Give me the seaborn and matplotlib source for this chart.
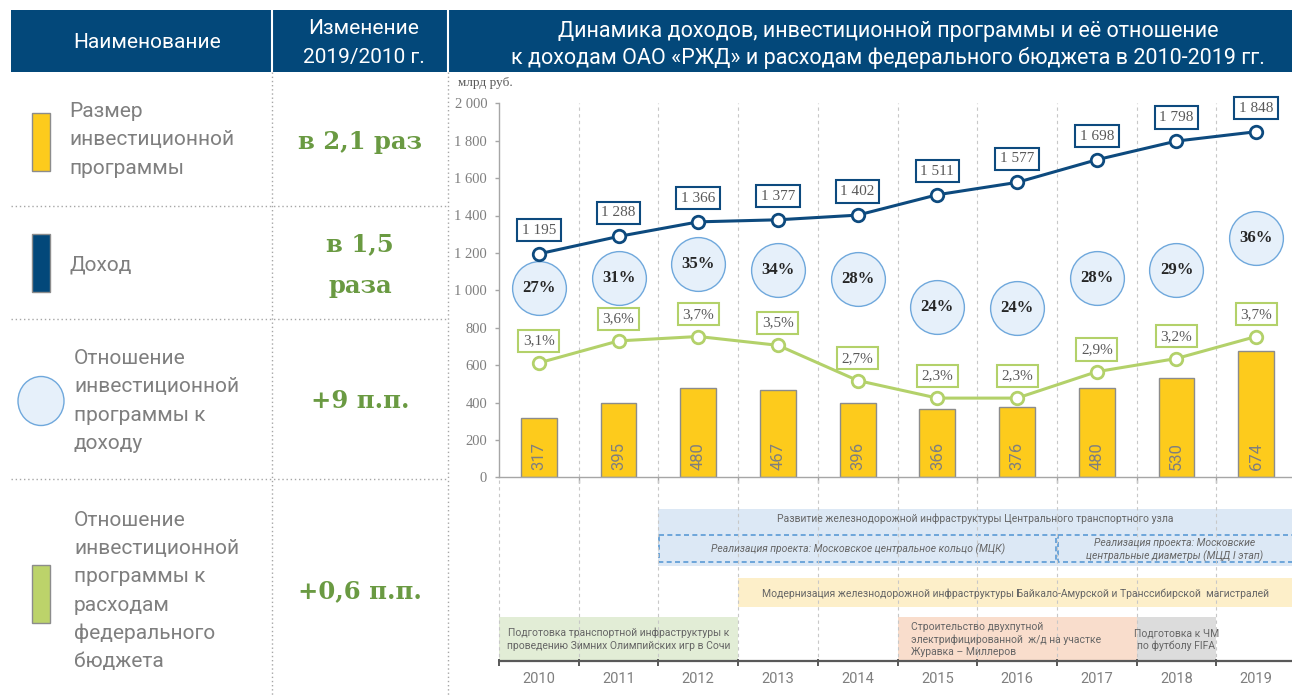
import numpy as np
import pandas as pd
import matplotlib
matplotlib.use("Agg")
import matplotlib.pyplot as plt
from matplotlib.patches import Rectangle, Ellipse
import seaborn as sns

# ---- data ----
years = ["2010", "2011", "2012", "2013", "2014", "2015", "2016", "2017", "2018", "2019"]
invest = [317, 395, 480, 467, 396, 366, 376, 480, 530, 674]          # млрд руб.
income = [1195, 1288, 1366, 1377, 1402, 1511, 1577, 1698, 1798, 1848]  # млрд руб.
invest_to_income = [27, 31, 35, 34, 28, 24, 24, 28, 29, 36]           # %
invest_to_budget = [3.1, 3.6, 3.7, 3.5, 2.7, 2.3, 2.3, 2.9, 3.2, 3.7]  # %

row_names = [
    "Размер\nинвестиционной\nпрограммы",
    "Доход",
    "Отношение\nинвестиционной\nпрограммы к\nдоходу",
    "Отношение\nинвестиционной\nпрограммы к\nрасходам\nфедерального\nбюджета",
]
row_changes = ["в 2,1 раз", "в 1,5\nраза", "+9 п.п.", "+0,6 п.п."]

programs = [
    "Развитие железнодорожной инфраструктуры Центрального транспортного узла",
    "Реализация проекта: Московское центральное кольцо (МЦК)",
    "Реализация проекта: Московские\nцентральные диаметры (МЦД I этап)",
    "Модернизация железнодорожной инфраструктуры Байкало-Амурской и Транссибирской  магистралей",
    "Подготовка транспортной инфраструктуры к\nпроведению Зимних Олимпийских игр в Сочи",
    "Строительство двухпутной\nэлектрифицированной  ж/д на участке\nЖуравка – Миллеров",
    "Подготовка к ЧМ\nпо футболу FIFA",
]
prog_start = [2012, 2012, 2017, 2013, 2010, 2015, 2018]
prog_end = [2019, 2016, 2019, 2019, 2012, 2017, 2018]

# ---- styles / layout ----
W, H = 1292, 695
NAVY = "#03487a"
LINE_BLUE = "#0d4a7e"
LINE_GREEN = "#b3d16a"
BAR_YELLOW = "#fdcb1c"
GREEN_TXT = "#6a9a42"
GREY = "#7f7f7f"
SANS = ["Roboto", "DejaVu Sans"]
SERIF = ["Liberation Serif", "DejaVu Serif"]

# vertical placement of the ratio bubbles (label layout, chart units)
bubble_y = [1012, 1066, 1141, 1108, 1061, 911, 905, 1066, 1108, 1280]
# lanes of the timeline boxes: (top, bottom, face, dashed, italic, align)
prog_style = [
    (509, 566, "#dce8f5", False, False, "top"),
    (535, 562, "none", True, True, "center"),
    (535, 562, "none", True, True, "center"),
    (578, 607, "#fdefc9", False, False, "center"),
    (617, 660, "#e2edd6", False, False, "center"),
    (617, 660, "#f9ddcc", False, False, "left"),
    (617, 660, "#dcdcdc", False, False, "center"),
]

sns.set_theme(style="white")
plt.rcParams["font.family"] = SANS


def lines_at(axis, x, yc, text, step, **kw):
    # place each line of a multi-line text at a fixed pixel step (y grows downwards)
    parts = text.split("\n")
    for k, part in enumerate(parts):
        axis.text(x, yc + (k - (len(parts) - 1) / 2) * step, part, va="center", **kw)


fig = plt.figure(figsize=(W / 100, H / 100), dpi=100)

# ---- background layer in pixel coordinates (table, header) ----
bg = fig.add_axes([0, 0, 1, 1])
bg.set_xlim(0, W)
bg.set_ylim(H, 0)
bg.axis("off")

bg.add_patch(Rectangle((11, 10), W - 11, 62, color=NAVY, lw=0))
for xs in (272, 448):
    bg.plot([xs, xs], [10, 72], color="white", lw=1.5)
    bg.plot([xs, xs], [72, H], color="#a6a6a6", lw=1, ls=(0, (1, 2)))
for ys in (206, 319, 479):
    bg.plot([11, 448], [ys, ys], color="#a6a6a6", lw=1, ls=(0, (1, 2)))

bg.text(147, 43, "Наименование", color="white", fontsize=15, ha="center", va="center")
lines_at(bg, 364, 43.5, "Изменение\n2019/2010 г.", 29, color="white", fontsize=15, ha="center")
lines_at(bg, 888, 44.5, "Динамика доходов, инвестиционной программы и её отношение\n"
         "к доходам ОАО «РЖД» и расходам федерального бюджета в 2010-2019 гг.", 27,
         color="white", fontsize=15.5, ha="center")

row_y = [140, 265, 401, 591]
label_x = [69, 69, 74, 74]
for i in range(4):
    lines_at(bg, label_x[i], row_y[i], row_names[i], 28.3, color=GREY, fontsize=15, ha="left")
    lines_at(bg, 360, row_y[i] + (2 if i == 0 else 0), row_changes[i], 42, color=GREEN_TXT,
             fontsize=17.5, fontweight="bold", family=["DejaVu Serif"], ha="center")

bg.add_patch(Rectangle((32, 113), 18, 58, fc=BAR_YELLOW, ec="#8c8c8c", lw=1))
bg.add_patch(Rectangle((32, 234), 18, 58, fc=NAVY, ec="#8c8c8c", lw=1))
bg.add_patch(Ellipse((41, 401), 46, 49, fc="#e6f0fa", ec="#6fa8dc", lw=1))
bg.add_patch(Rectangle((32, 565), 18, 58, fc="#bcd36a", ec="#8c8c8c", lw=1))

bg.text(458, 83, "млрд руб.", color="#595959", fontsize=9.5, family=SERIF,
        ha="left", va="center")

# ---- main chart ----
px_per_cat = 79.7
x_right = -0.5 + (W - 499) / px_per_cat
ax = fig.add_axes([499 / W, 1 - 477.3 / H, (W - 499) / W, 374 / H])
ax.set_facecolor("none")

df = pd.DataFrame({
    "year": years,
    "pos": np.arange(len(years)),
    "invest": invest,
    "income": income,
    "ratio_inc": invest_to_income,
    "ratio_bud": invest_to_budget,
})

sns.barplot(data=df, x="year", y="invest", color=BAR_YELLOW, saturation=1,
            width=0.45, edgecolor="#8c8c8c", linewidth=1, ax=ax, zorder=2)
sns.lineplot(data=df, x="pos", y="income", color=LINE_BLUE, lw=2.2, marker="o",
             markersize=9, markerfacecolor="white", markeredgecolor=LINE_BLUE,
             markeredgewidth=2, ax=ax, zorder=4)
sns.scatterplot(x=df["pos"], y=bubble_y, s=1500, color="#e6f0fa",
                edgecolor="#6fa8dc", linewidth=1, ax=ax, zorder=3)

ax.set_xlim(-0.5, x_right)
ax.set_ylim(0, 2000)
ax.set_xlabel("")
ax.set_ylabel("")
ax.vlines(np.arange(0.5, 9), 0, 2000, color="#c8c8c8", lw=0.8,
          linestyles=(0, (3, 3)), zorder=1)

ax.set_yticks(np.arange(0, 2001, 200))
ax.set_yticklabels([f"{v:,}".replace(",", " ") for v in range(0, 2001, 200)])
ax.set_xticks([])
ax.set_xticks(np.arange(0.5, 9), minor=True)
ax.tick_params(axis="y", left=True, length=3, width=1, color="#a6a6a6",
               pad=5.5, labelsize=10.5, labelcolor=GREY)
ax.tick_params(axis="x", which="minor", bottom=True, length=4, color="#a6a6a6")
for lab in ax.get_yticklabels():
    lab.set_family(SERIF)
for side in ("top", "right"):
    ax.spines[side].set_visible(False)
for side in ("left", "bottom"):
    ax.spines[side].set_color("#a6a6a6")
    ax.spines[side].set_linewidth(1)

for i, v in enumerate(invest):
    ax.annotate(str(v), xy=(i, 0), xytext=(0, 5), textcoords="offset points",
                rotation=90, ha="center", va="bottom", fontsize=12,
                color=GREY, zorder=5)
for i, v in enumerate(income):
    ax.annotate(f"{v:,}".replace(",", " "), xy=(i, v), xytext=(0, 17),
                textcoords="offset points", ha="center", va="center",
                fontsize=11, family=SERIF, color="#595959", zorder=6,
                bbox=dict(boxstyle="square,pad=0.3", fc="white", ec=LINE_BLUE, lw=1.5))
for i, v in enumerate(invest_to_income):
    ax.text(i, bubble_y[i], f"{v}%", ha="center", va="center", fontsize=12,
            fontweight="bold", family=SERIF, color="#262626", zorder=5)

# ratio to federal budget on its own (hidden) scale
ax2 = ax.twinx()
sns.lineplot(data=df, x="pos", y="ratio_bud", color=LINE_GREEN, lw=2.2, marker="o",
             markersize=9, markerfacecolor="white", markeredgecolor=LINE_GREEN,
             markeredgewidth=2, ax=ax2)
ax2.set_ylim(0.5, 9.0)
ax2.set_xlim(-0.5, x_right)
ax2.axis("off")
for i, v in enumerate(invest_to_budget):
    ax2.annotate(f"{v:.1f}".replace(".", ",") + "%", xy=(i, v), xytext=(0, 16),
                 textcoords="offset points", ha="center", va="center",
                 fontsize=11, family=SERIF, color="#595959",
                 bbox=dict(boxstyle="square,pad=0.3", fc="white", ec=LINE_GREEN, lw=1.5))

# ---- timeline of programmes ----
axt = fig.add_axes([499 / W, 0, (W - 499) / W, (H - 480) / H])
axt.set_xlim(-0.5, x_right)
axt.set_ylim(H, 480)
axt.axis("off")
axt.vlines(np.arange(-0.5, 9), 480, 661, color="#c8c8c8", lw=0.8,
           linestyles=(0, (3, 3)), clip_on=False)

for k, name in enumerate(programs):
    top, bot, face, dashed, italic, align = prog_style[k]
    x0 = years.index(str(prog_start[k])) - 0.5
    x1 = years.index(str(prog_end[k])) + 0.5
    if dashed:
        axt.add_patch(Rectangle((x0 + 0.01, top), x1 - x0 - 0.02, bot - top, fc="none",
                                ec="#5b9bd5", lw=1.2, ls=(0, (3, 2)), clip_on=False))
    else:
        axt.add_patch(Rectangle((x0, top), x1 - x0, bot - top, fc=face, lw=0))
    xv = min(x1, x_right)
    if align == "left":
        tx, ha = x0 + 0.17, "left"
    else:
        tx, ha = (x0 + xv) / 2, "center"
    ty = top + 10 if align == "top" else (top + bot) / 2 + 1
    lines_at(axt, tx, ty, name, 12.8, ha=ha, fontsize=7.5,
             style="italic" if italic else "normal", color="#666666")

axt.plot([-0.5, x_right], [661, 661], color="#595959", lw=1.6, clip_on=False)
axt.vlines(np.arange(-0.5, 9), 659, 666, color="#595959", lw=1.4, clip_on=False)
for i, y in enumerate(years):
    axt.text(i, 679, y, ha="center", va="center", fontsize=10.5, color=GREY)

fig.savefig("out.png", dpi=100)
